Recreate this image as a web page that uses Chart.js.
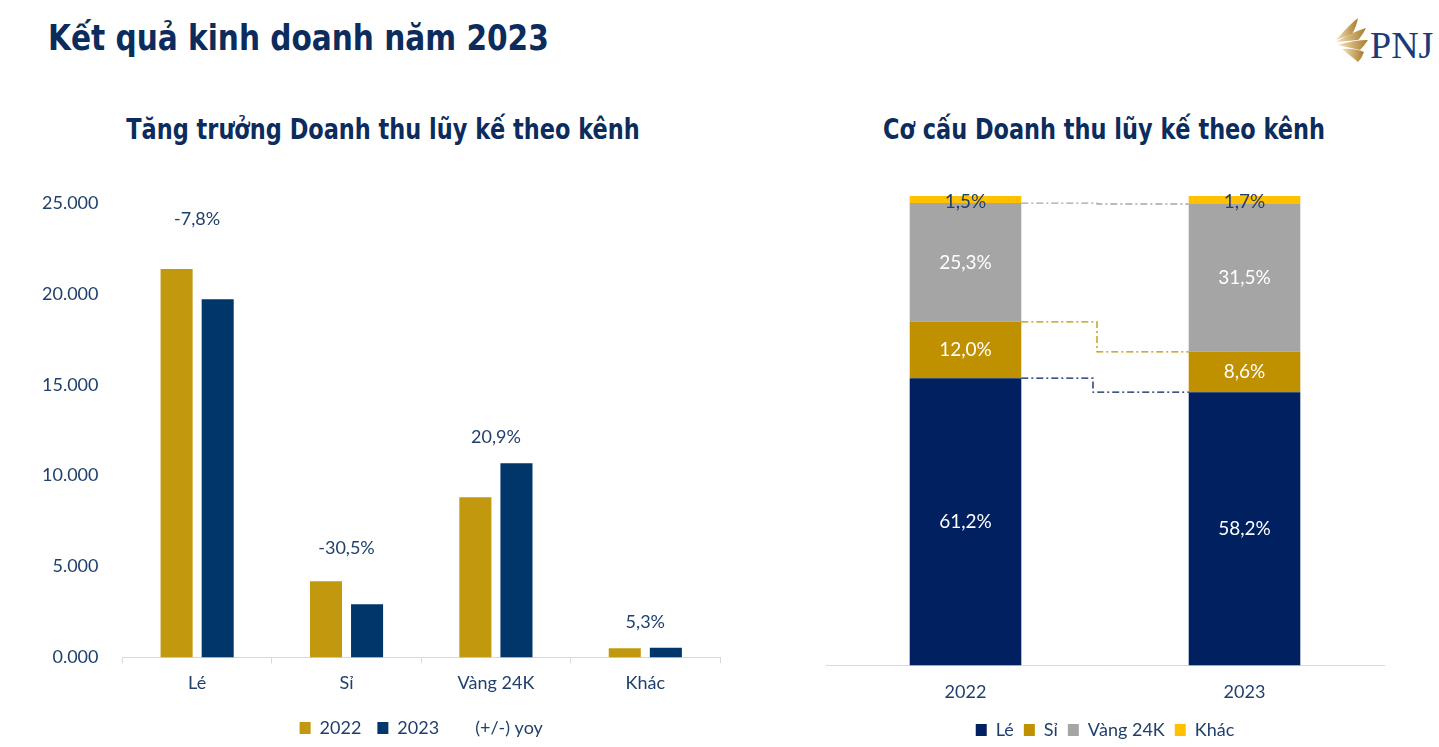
<!DOCTYPE html>
<html>
<head>
<meta charset="utf-8">
<script src="https://cdn.jsdelivr.net/npm/chart.js@4/dist/chart.umd.min.js"></script>
<style>
  body { margin: 0; width: 1439px; height: 747px; background: #fff; position: relative; overflow: hidden; font-family: Lato, sans-serif; }
  h1 { position: absolute; left: 48px; top: 18px; margin: 0; font: bold 35px 'DejaVu Sans Condensed', sans-serif;
       color: #0b2c5c; transform: scaleX(0.94); transform-origin: left center; white-space: nowrap; }
  .sub { position: absolute; top: 112px; width: 700px; margin-left: -350px; text-align: center; white-space: nowrap;
         font: bold 29px 'DejaVu Sans Condensed', sans-serif; color: #0b2c5c; transform: scaleX(0.86); }
  #logo { position: absolute; left: 1328px; top: 12px; }
  .box { position: absolute; }
</style>
</head>
<body>
<h1>Kết quả kinh doanh năm 2023</h1>
<div class="sub" style="left:383px">Tăng trưởng Doanh thu lũy kế theo kênh</div>
<div class="sub" style="left:1104px">Cơ cấu Doanh thu lũy kế theo kênh</div>
<svg id="logo" width="108" height="55" viewBox="0 0 108 55">
  <defs>
    <linearGradient id="g" x1="0" x2="1">
      <stop offset="0" stop-color="#f5e2b8"/>
      <stop offset="1" stop-color="#a87a2a"/>
    </linearGradient>
  </defs>
  <path d="M8 28 Q22 12 30 6 Q28 16 24 22 Z" fill="url(#g)"/>
  <path d="M8 30 Q24 20 38 16 Q34 24 30 28 Z" fill="url(#g)"/>
  <path d="M10 33 Q26 28 40 28 Q36 34 32 38 Z" fill="url(#g)"/>
  <path d="M14 37 Q26 36 36 40 Q34 46 30 50 Z" fill="url(#g)"/>
  <text x="42" y="46" font-family="'Liberation Serif', serif" font-size="38" fill="#1b3a7a">PNJ</text>
</svg>
<div class="box" style="left:0;top:95px;width:740px;height:658px"><canvas id="growth"></canvas></div>
<div class="box" style="left:790px;top:95px;width:649px;height:660px"><canvas id="mix"></canvas></div>
<script>
// left chart: revenue by channel (bn VND)
const channels = ['Lé', 'Sỉ', 'Vàng 24K', 'Khác'];
const rev2022 = [21370, 4190, 8810, 500];
const rev2023 = [19710, 2920, 10680, 527];
const yoyText = ['-7,8%', '-30,5%', '20,9%', '5,3%'];
const yoyAnchor = [24100, 6000, 12100, 1950];
const yTickLabels = ['0.000', '5.000', '10.000', '15.000', '20.000', '25.000'];

// right chart: revenue mix (%)
const years = ['2022', '2023'];
const mixLe = [61.2, 58.2];
const mixSi = [12.0, 8.6];
const mixVang = [25.3, 31.5];
const mixKhac = [1.5, 1.7];

const navyText = '#1f3f6e';
const bodyFont = 'Lato, sans-serif';

Chart.defaults.font.family = bodyFont;
Chart.defaults.color = navyText;

// writes the yoy text above each group
const yoyLabels = {
  id: 'yoyLabels',
  afterDatasetsDraw(chart) {
    const meta = chart.getDatasetMeta(2);
    const ctx = chart.ctx;
    ctx.save();
    ctx.font = '18px ' + bodyFont;
    ctx.fillStyle = navyText;
    ctx.textAlign = 'center';
    ctx.textBaseline = 'middle';
    meta.data.forEach((pt, i) => ctx.fillText(yoyText[i], pt.x, pt.y));
    ctx.restore();
  }
};

new Chart(document.getElementById('growth'), {
  type: 'bar',
  data: {
    labels: channels,
    datasets: [
      { label: '2022', data: rev2022, backgroundColor: '#c2980f', barPercentage: 0.78, categoryPercentage: 0.55 },
      { label: '2023', data: rev2023, backgroundColor: '#00366a', barPercentage: 0.78, categoryPercentage: 0.55 },
      { type: 'line', label: '(+/-) yoy', data: yoyAnchor, showLine: false, pointRadius: 0,
        borderColor: 'rgba(0,0,0,0)', backgroundColor: 'rgba(0,0,0,0)' }
    ]
  },
  options: {
    responsive: true,
    maintainAspectRatio: false,
    animation: false,
    layout: { padding: { left: 26, right: 20, top: 108, bottom: 6 } },
    plugins: {
      legend: { position: 'bottom', fullSize: false,
        labels: { boxWidth: 11, boxHeight: 12, font: { size: 18 }, color: navyText, padding: 16 } },
      tooltip: { enabled: false }
    },
    scales: {
      x: {
        grid: { drawOnChartArea: false, color: '#d9d9d9', tickLength: 6 },
        border: { color: '#d9d9d9' },
        ticks: { font: { size: 18 }, color: navyText, padding: 9 }
      },
      y: {
        min: 0, max: 25000,
        grid: { display: false },
        border: { display: false },
        ticks: { stepSize: 5000, font: { size: 18 }, color: navyText, padding: 16,
          callback: (v, i) => yTickLabels[i] }
      }
    }
  },
  plugins: [yoyLabels]
});

// percentage labels inside stacked segments + connector lines
const mixLabels = {
  id: 'mixLabels',
  afterDatasetsDraw(chart) {
    const ctx = chart.ctx;
    ctx.save();
    // step connectors between the tops of each segment
    const lineColors = ['#002060', '#bf9000', '#a5a5a5'];
    const shifts = [-12, -8, -8];
    for (let d = 0; d < 3; d++) {
      const bars = chart.getDatasetMeta(d).data;
      const a = bars[0], b = bars[1];
      const x0 = a.x + a.width / 2, x1 = b.x - b.width / 2;
      const xm = (x0 + x1) / 2 + shifts[d];
      ctx.strokeStyle = lineColors[d];
      ctx.lineWidth = 1.3;
      ctx.setLineDash([7, 3, 2, 3]);
      ctx.beginPath();
      ctx.moveTo(x0, a.y);
      ctx.lineTo(xm, a.y);
      ctx.lineTo(xm, b.y);
      ctx.lineTo(x1, b.y);
      ctx.stroke();
    }
    ctx.setLineDash([]);
    ctx.font = '19px ' + bodyFont;
    ctx.textAlign = 'center';
    ctx.textBaseline = 'middle';
    chart.data.datasets.forEach((ds, d) => {
      chart.getDatasetMeta(d).data.forEach((bar, i) => {
        ctx.fillStyle = d === 3 ? navyText : '#ffffff';
        const v = ds.data[i].toFixed(1).replace('.', ',') + '%';
        ctx.fillText(v, bar.x, (bar.y + bar.base) / 2 + (d === 3 ? 2 : 0));
      });
    });
    ctx.restore();
  }
};

new Chart(document.getElementById('mix'), {
  type: 'bar',
  data: {
    labels: years,
    datasets: [
      { label: 'Lé', data: mixLe, backgroundColor: '#002060' },
      { label: 'Sỉ', data: mixSi, backgroundColor: '#bf9000' },
      { label: 'Vàng 24K', data: mixVang, backgroundColor: '#a5a5a5' },
      { label: 'Khác', data: mixKhac, backgroundColor: '#ffc000' }
    ]
  },
  options: {
    responsive: true,
    maintainAspectRatio: false,
    animation: false,
    datasets: { bar: { barPercentage: 0.4, categoryPercentage: 1 } },
    layout: { padding: { left: 36, right: 55, top: 101, bottom: 6 } },
    plugins: {
      legend: { position: 'bottom', labels: { boxWidth: 11, boxHeight: 12, font: { size: 18 }, color: navyText, padding: 10 } },
      tooltip: { enabled: false }
    },
    scales: {
      x: {
        stacked: true,
        grid: { display: false },
        border: { color: '#d9d9d9' },
        ticks: { font: { size: 18 }, color: navyText, padding: 8 }
      },
      y: { stacked: true, min: 0, max: 100, display: false }
    }
  },
  plugins: [mixLabels]
});
</script>
</body>
</html>
